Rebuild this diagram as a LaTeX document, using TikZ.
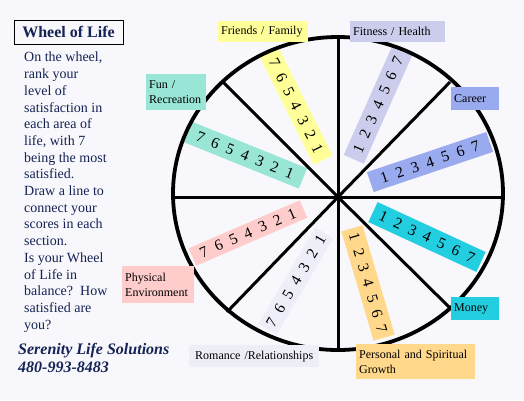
\documentclass[tikz,border=0pt]{standalone}
\usepackage{fontspec}
\setmainfont{Liberation Serif}
\usetikzlibrary{positioning}
\definecolor{pagebg}{RGB}{248,248,252}
\definecolor{navy}{RGB}{20,34,84}
\definecolor{friendsc}{RGB}{255,255,153}
\definecolor{fitnessc}{RGB}{204,204,236}
\definecolor{careerc}{RGB}{153,170,238}
\definecolor{moneyc}{RGB}{34,206,224}
\definecolor{personalc}{RGB}{255,216,140}
\definecolor{romancec}{RGB}{238,238,248}
\definecolor{physicalc}{RGB}{255,204,204}
\definecolor{func}{RGB}{153,230,214}
\newcommand{\ranks}[1]{\foreach \r in {#1}{\makebox[16pt]{\r}}}

\begin{document}
\begin{tikzpicture}[x=1pt, y=-1pt,
  strip/.style={minimum height=21pt, inner sep=0pt, font=\fontsize{15.5}{17}\selectfont},
  tag/.style={anchor=north west, inner xsep=3pt, inner ysep=0pt, align=left, font=\fontsize{12}{14.5}\selectfont},
  rim/.style={line width=3.8pt},
  spoke/.style={line width=3pt}]
  \useasboundingbox (0,0) rectangle (524,400);
  \fill[pagebg] (0,0) rectangle (524,400);
  % left column
  \node[draw=black, line width=0.8pt, minimum width=109pt, minimum height=24pt, inner sep=0pt,
    text=navy, font=\fontsize{16}{18}\selectfont\bfseries] (title) at (68.5,32) {Wheel of Life};
  \node[anchor=north west, inner sep=0pt, align=left, text=navy, font=\fontsize{14}{16.7}\selectfont]
    (intro) at (24,52) {On the wheel,\\ rank your\\ level of\\ satisfaction in\\ each area of\\ life, with 7\\
    being the most\\ satisfied.\\ Draw a line to\\ connect your\\ scores in each\\ section.\\ Is your Wheel\\
    of Life in\\ balance?\ \ How\\ satisfied are\\ you?};
  \node[anchor=north west, inner sep=0pt, align=left, text=navy, font=\fontsize{16}{18}\selectfont\bfseries\itshape]
    (contact) at (18,343) {Serenity Life Solutions\\ 480-993-8483};
  % score strips
  \node[strip, fill=friendsc, minimum width=121pt, rotate=-63.4] (sFriends) at (296,106) {\ranks{7,6,5,4,3,2,1}};
  \node[strip, fill=func, minimum width=125pt, minimum height=22pt, rotate=-22] (sFun) at (245,155) {\ranks{7,6,5,4,3,2,1}};
  \node[strip, fill=fitnessc, minimum width=119pt, minimum height=22pt, rotate=66] (sFitness) at (378,105) {\ranks{1,2,3,4,5,6,7}};
  \node[strip, fill=careerc, minimum width=126pt, rotate=18.6] (sCareer) at (430,162) {\ranks{1,2,3,4,5,6,7}};
  \node[strip, fill=moneyc, minimum width=119pt, minimum height=22pt, rotate=-24.8] (sMoney) at (427,237) {\ranks{1,2,3,4,5,6,7}};
  \node[strip, fill=personalc, minimum width=114pt, minimum height=22pt, rotate=-73.6] (sPersonal) at (368,283) {\ranks{1,2,3,4,5,6,7}};
  \node[strip, fill=physicalc, minimum width=121pt, minimum height=19pt, rotate=23.4] (sPhysical) at (248,233) {\ranks{7,6,5,4,3,2,1}};
  \node[strip, fill=romancec, minimum width=112pt, rotate=59.6] (sRomance) at (296,281) {\ranks{7,6,5,4,3,2,1}};
  % wheel
  \draw[rim] (338,193.5) ellipse [x radius=165pt, y radius=156.5pt];
  \coordinate (hub) at (338,197);
  \coordinate (rimN) at (338,37);
  \coordinate (rimS) at (338,350);
  \coordinate (rimW) at (173,197);
  \coordinate (rimE) at (503,197);
  \coordinate (rimNW) at (223,82);
  \coordinate (rimNE) at (450,82);
  \coordinate (rimSW) at (227,312);
  \coordinate (rimSE) at (450,308);
  \draw[spoke] (rimN) -- (rimS);
  \draw[spoke] (rimW) -- (rimE);
  \draw[spoke] (rimNW) -- (hub) -- (rimSE);
  \draw[spoke] (rimNE) -- (hub) -- (rimSW);
  % area labels
  \node[tag, fill=friendsc, text width=84pt, minimum height=21pt] (lFriends) at (218,21) {Friends / Family};
  \node[tag, fill=fitnessc, text width=89pt, minimum height=21pt] (lFitness) at (350,21) {Fitness / Health};
  \node[tag, fill=careerc, text width=42pt, minimum height=23pt] (lCareer) at (451,87) {Career};
  \node[tag, fill=func, text width=54pt, minimum height=36pt] (lFun) at (146,74) {Fun /\\ Recreation};
  \node[tag, fill=physicalc, text width=66pt, minimum height=37pt] (lPhysical) at (122,266) {Physical\\ Environment};
  \node[tag, fill=romancec, text width=124pt, minimum height=22pt, align=center] (lRomance) at (189,345) {Romance /Relationships};
  \node[tag, fill=moneyc, text width=42pt, minimum height=23pt] (lMoney) at (451,297) {Money};
  \node[tag, fill=personalc, text width=113pt, minimum height=35pt] (lPersonal) at (356,344) {Personal and Spiritual\\ Growth};
\end{tikzpicture}
\end{document}
